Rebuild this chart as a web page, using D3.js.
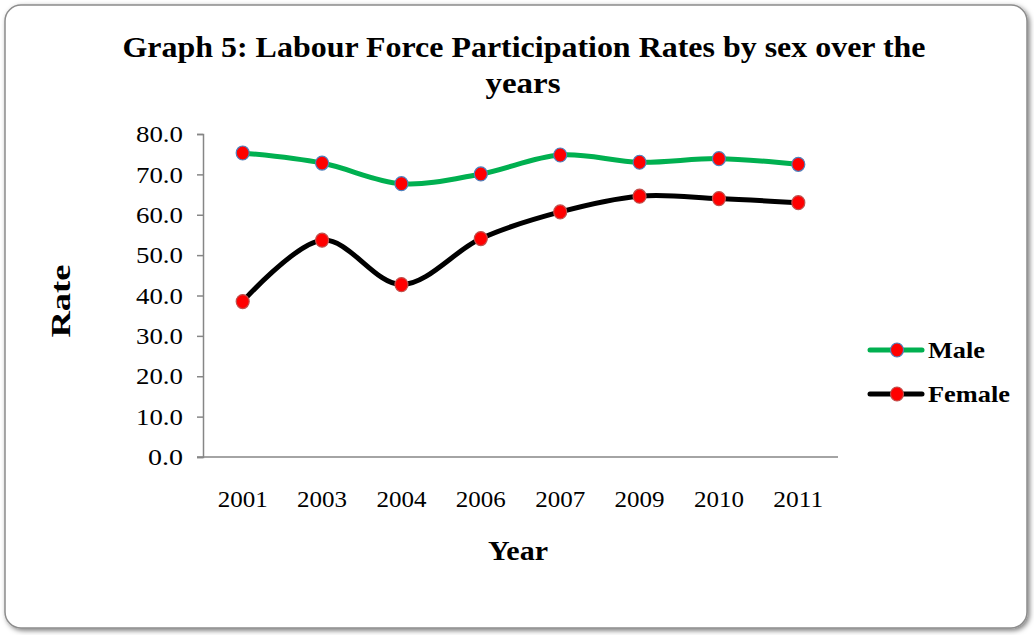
<!DOCTYPE html>
<html>
<head>
<meta charset="utf-8">
<script src="https://cdn.jsdelivr.net/npm/d3@7"></script>
<style>
  body { margin: 0; background: #fff; }
  svg text { font-family: "Liberation Serif", "Times New Roman", serif; }
</style>
</head>
<body>
<div id="chart"></div>
<script>
const years = ["2001", "2003", "2004", "2006", "2007", "2009", "2010", "2011"];
const maleRates = [75.3, 72.8, 67.7, 70.1, 74.8, 73.0, 73.9, 72.5];
const femaleRates = [38.5, 53.7, 42.7, 54.1, 60.7, 64.6, 64.0, 63.0];
const yTicks = [0, 10, 20, 30, 40, 50, 60, 70, 80];

const width = 1034;
const height = 635;
const margin = { top: 134, right: 196, bottom: 178, left: 203 };

const svg = d3.select("#chart")
    .append("svg")
    .attr("width", width)
    .attr("height", height);

// soft shadow for the frame
const defs = svg.append("defs");
const filt = defs.append("filter").attr("id", "shadow")
    .attr("x", "-5%").attr("y", "-5%").attr("width", "110%").attr("height", "110%");
filt.append("feDropShadow")
    .attr("dx", 2).attr("dy", 2).attr("stdDeviation", 2.5)
    .attr("flood-color", "#000").attr("flood-opacity", 0.5);

svg.append("rect")
    .attr("x", 5).attr("y", 5)
    .attr("width", width - 12).attr("height", height - 12)
    .attr("rx", 16).attr("ry", 16)
    .attr("fill", "#fff")
    .attr("stroke", "#8c8c8c")
    .attr("stroke-width", 1.5)
    .attr("filter", "url(#shadow)");

const x = d3.scaleBand()
    .domain(years)
    .range([margin.left, width - margin.right]);

const y = d3.scaleLinear()
    .domain([0, 80])
    .range([height - margin.bottom, margin.top]);

// y axis
const yAxis = svg.append("g")
    .attr("transform", `translate(${margin.left}, 0)`)
    .call(d3.axisLeft(y).tickValues(yTicks).tickFormat(d3.format(".1f")).tickSize(6).tickPadding(14));
yAxis.select(".domain").attr("stroke", "#868686").attr("stroke-width", 1.5);
yAxis.selectAll(".tick line").attr("stroke", "#868686").attr("stroke-width", 1.5);
yAxis.selectAll("text")
    .attr("fill", "#000")
    .style("font-size", "24px")
    .attr("textLength", d => d < 10 ? 35 : 47)
    .attr("lengthAdjust", "spacingAndGlyphs");

// x axis
const xAxis = svg.append("g")
    .attr("transform", `translate(0, ${height - margin.bottom})`)
    .call(d3.axisBottom(x).tickSize(0).tickSizeOuter(0).tickPadding(50));
xAxis.select(".domain").attr("stroke", "#868686").attr("stroke-width", 1.5)
    .attr("d", `M${margin.left - 6},0H${width - margin.right}`);
xAxis.selectAll("text")
    .attr("fill", "#000")
    .attr("dy", "0")
    .style("font-size", "24px")
    .attr("textLength", 50)
    .attr("lengthAdjust", "spacingAndGlyphs");

// title
const title = svg.append("g")
    .style("font-size", "30px")
    .style("font-weight", "bold");
title.append("text")
    .attr("x", 524).attr("y", 57)
    .attr("text-anchor", "middle")
    .attr("textLength", 803)
    .attr("lengthAdjust", "spacingAndGlyphs")
    .text("Graph 5: Labour Force Participation Rates by sex over the");
title.append("text")
    .attr("x", 523).attr("y", 93)
    .attr("text-anchor", "middle")
    .attr("textLength", 75)
    .attr("lengthAdjust", "spacingAndGlyphs")
    .text("years");

// axis titles
svg.append("text")
    .attr("transform", "translate(70, 301) rotate(-90)")
    .attr("text-anchor", "middle")
    .style("font-size", "28px")
    .style("font-weight", "bold")
    .attr("textLength", 73)
    .attr("lengthAdjust", "spacingAndGlyphs")
    .text("Rate");

svg.append("text")
    .attr("x", 518).attr("y", 560)
    .attr("text-anchor", "middle")
    .style("font-size", "28px")
    .style("font-weight", "bold")
    .attr("textLength", 60)
    .attr("lengthAdjust", "spacingAndGlyphs")
    .text("Year");

const series = [
    { name: "Male", values: maleRates, color: "#00b050", markerStroke: "#4f81bd", labelLen: 57 },
    { name: "Female", values: femaleRates, color: "#000000", markerStroke: "#c0504d", labelLen: 82 }
];

const line = d3.line()
    .x((d, i) => x(years[i]) + x.bandwidth() / 2)
    .y(d => y(d))
    .curve(d3.curveCatmullRom.alpha(0));

series.forEach(s => {
    svg.append("path")
        .datum(s.values)
        .attr("fill", "none")
        .attr("stroke", s.color)
        .attr("stroke-width", 5)
        .attr("stroke-linejoin", "round")
        .attr("d", line);

    svg.selectAll(null)
        .data(s.values)
        .enter()
        .append("ellipse")
        .attr("cx", (d, i) => x(years[i]) + x.bandwidth() / 2)
        .attr("cy", d => y(d))
        .attr("rx", 6.5)
        .attr("ry", 7)
        .attr("fill", "#ff0000")
        .attr("stroke", s.markerStroke)
        .attr("stroke-width", 1.2);
});

// legend
const legend = svg.append("g");
series.forEach((s, i) => {
    const ly = 350 + i * 44;
    legend.append("line")
        .attr("x1", 870).attr("x2", 922)
        .attr("y1", ly).attr("y2", ly)
        .attr("stroke", s.color)
        .attr("stroke-width", 5)
        .attr("stroke-linecap", "round");
    legend.append("ellipse")
        .attr("cx", 897).attr("cy", ly)
        .attr("rx", 6.5).attr("ry", 7)
        .attr("fill", "#ff0000")
        .attr("stroke", s.markerStroke)
        .attr("stroke-width", 1.2);
    legend.append("text")
        .attr("x", 928).attr("y", ly + 8)
        .style("font-size", "23px")
        .style("font-weight", "bold")
        .attr("textLength", s.labelLen)
        .attr("lengthAdjust", "spacingAndGlyphs")
        .text(s.name);
});
</script>
</body>
</html>
